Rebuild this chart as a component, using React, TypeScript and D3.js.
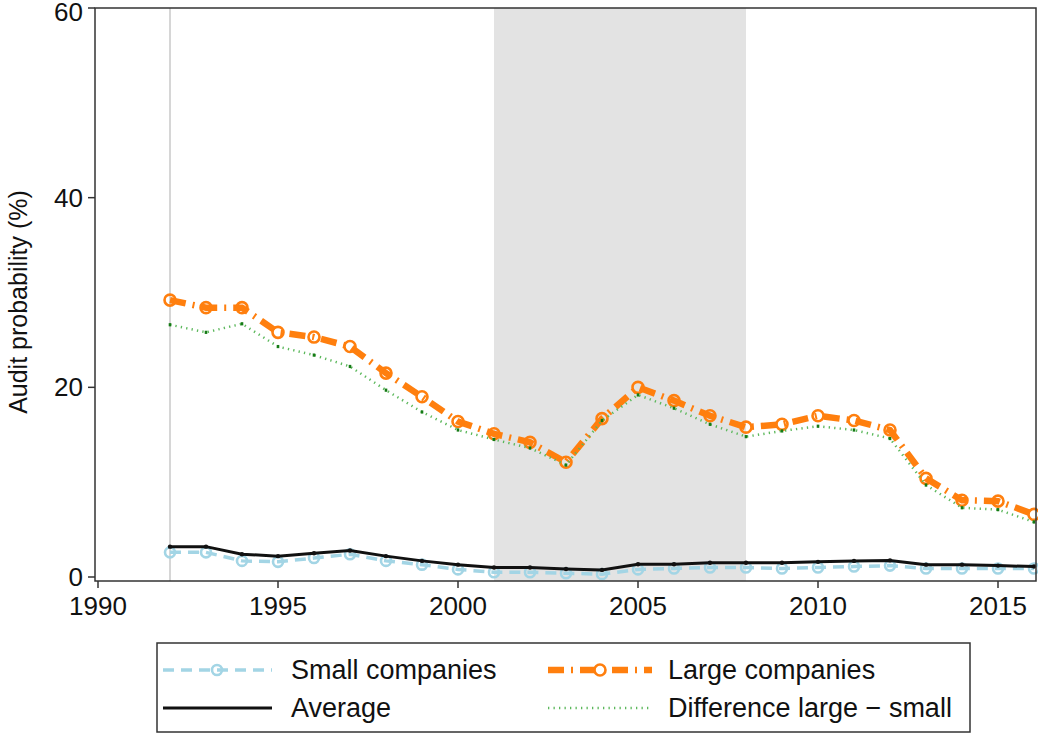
import React from "react";
import * as d3 from "d3";

const years = [1992,1993,1994,1995,1996,1997,1998,1999,2000,2001,2002,2003,2004,2005,2006,2007,2008,2009,2010,2011,2012,2013,2014,2015,2016];
const small = [2.6,2.6,1.7,1.6,2.0,2.4,1.7,1.3,0.8,0.5,0.5,0.4,0.3,0.8,0.9,1.0,1.0,0.9,1.0,1.1,1.2,0.9,0.9,0.9,0.9];
const large = [29.2,28.4,28.4,25.8,25.3,24.3,21.5,19.0,16.4,15.1,14.2,12.1,16.7,20.0,18.6,17.0,15.8,16.1,17.0,16.5,15.5,10.4,8.1,8.0,6.6];
const average = [3.2,3.2,2.4,2.2,2.5,2.8,2.2,1.7,1.3,1.0,1.0,0.85,0.75,1.35,1.35,1.5,1.5,1.5,1.6,1.7,1.75,1.3,1.3,1.2,1.1];
const diff = [26.6,25.8,26.7,24.3,23.4,22.2,19.7,17.4,15.5,14.5,13.6,11.8,16.5,19.2,17.8,16.1,14.8,15.4,15.9,15.5,14.6,9.7,7.3,7.1,5.8];
const xTicks = [1990,1995,2000,2005,2010,2015];
const yTicks = [0,20,40,60];
const shadeRange = [2001, 2008];
const refYear = 1992;
const legendLabels = ["Small companies","Large companies","Average","Difference large \u2212 small"];

const W = 1038, H = 736;
const L = 95, R = 1036, T = 8, B = 581;
const FONT = "'Liberation Sans', Arial, Helvetica, sans-serif";
const C_ORANGE = "#ff7f0e";
const C_BLUE = "#a3d5e5";
const C_GREEN = "#5cb85c";
const C_GREEN_D = "#157a15";
const C_SHADE = "#e3e3e3";

export default function App() {
  const x = d3.scaleLinear().domain([1990, 2016]).range([98, 1034]);
  const y = d3.scaleLinear().domain([0, 60]).range([577, 8]);
  const mk = (vals: number[]) =>
    d3.line<number>().x((_, i) => x(years[i])).y((v) => y(v))(vals) || "";

  const fs = 26;
  const lfs = 27;
  return (
    <svg width={W} height={H} style={{ position: "absolute", left: 0, top: 0, background: "#fff" }} fontFamily={FONT}>
      <rect x={0} y={0} width={W} height={H} fill="#fff" />
      <rect x={x(shadeRange[0])} y={T} width={x(shadeRange[1]) - x(shadeRange[0])} height={B - T} fill={C_SHADE} />
      <line x1={x(refYear)} x2={x(refYear)} y1={T} y2={B} stroke="#d6d6d6" strokeWidth={2} />

      <path d={mk(small)} fill="none" stroke={C_BLUE} strokeWidth={3.5} strokeDasharray="11,7" />
      {small.map((v, i) => (
        <circle key={"s" + i} cx={x(years[i])} cy={y(v)} r={5} fill="none" stroke={C_BLUE} strokeWidth={2.6} />
      ))}

      <path d={mk(large)} fill="none" stroke={C_ORANGE} strokeWidth={6.5} strokeDasharray="16,7,2,7" />
      {large.map((v, i) => (
        <circle key={"l" + i} cx={x(years[i])} cy={y(v)} r={5.5} fill="none" stroke={C_ORANGE} strokeWidth={2.6} />
      ))}

      <path d={mk(average)} fill="none" stroke="#111" strokeWidth={3} />
      {average.map((v, i) => (
        <circle key={"a" + i} cx={x(years[i])} cy={y(v)} r={2.2} fill="#111" />
      ))}

      <path d={mk(diff)} fill="none" stroke={C_GREEN} strokeWidth={2.5} strokeDasharray="1.3,4.2" />
      {diff.map((v, i) => (
        <rect key={"d" + i} x={x(years[i]) - 1.3} y={y(v) - 1.6} width={2.6} height={3.2} fill={C_GREEN_D} />
      ))}

      <rect x={L} y={T} width={R - L} height={B - T} fill="none" stroke="#333" strokeWidth={1.5} />

      {yTicks.map((t) => (
        <g key={"yt" + t}>
          <line x1={L - 7} x2={L} y1={y(t)} y2={y(t)} stroke="#333" strokeWidth={1.5} />
          <text x={L - 12} y={t === 60 ? y(t) + 4 : y(t)} dy="0.35em" textAnchor="end" fontSize={fs} fill="#111">{t}</text>
        </g>
      ))}
      <text transform={`translate(27,302) rotate(-90)`} textAnchor="middle" fontSize={25} fill="#111">
        Audit probability (%)
      </text>

      {xTicks.map((t) => (
        <g key={"xt" + t}>
          <line x1={x(t)} x2={x(t)} y1={B} y2={B + 7} stroke="#333" strokeWidth={1.5} />
          <text x={x(t)} y={B + 34} textAnchor="middle" fontSize={fs} fill="#111">{t}</text>
        </g>
      ))}

      <rect x={157} y={643} width={813} height={89} fill="#fff" stroke="#333" strokeWidth={1.5} />
      <line x1={163} x2={272} y1={670} y2={670} stroke={C_BLUE} strokeWidth={3.5} strokeDasharray="11,7" />
      <circle cx={217} cy={670} r={5} fill="none" stroke={C_BLUE} strokeWidth={2.6} />
      <text x={291} y={670} dy="0.35em" fontSize={lfs} fill="#111">{legendLabels[0]}</text>
      <line x1={548} x2={652} y1={670} y2={670} stroke={C_ORANGE} strokeWidth={6.5} strokeDasharray="16,7,2,7" />
      <circle cx={600} cy={670} r={5.5} fill="#fff" stroke={C_ORANGE} strokeWidth={2.6} />
      <text x={668} y={670} dy="0.35em" fontSize={lfs} fill="#111">{legendLabels[1]}</text>
      <line x1={163} x2={272} y1={708} y2={708} stroke="#111" strokeWidth={3} />
      <text x={291} y={708} dy="0.35em" fontSize={lfs} fill="#111">{legendLabels[2]}</text>
      <line x1={548} x2={652} y1={708} y2={708} stroke={C_GREEN} strokeWidth={2.5} strokeDasharray="1.3,4.2" />
      <text x={668} y={708} dy="0.35em" fontSize={lfs} fill="#111">{legendLabels[3]}</text>
    </svg>
  );
}
